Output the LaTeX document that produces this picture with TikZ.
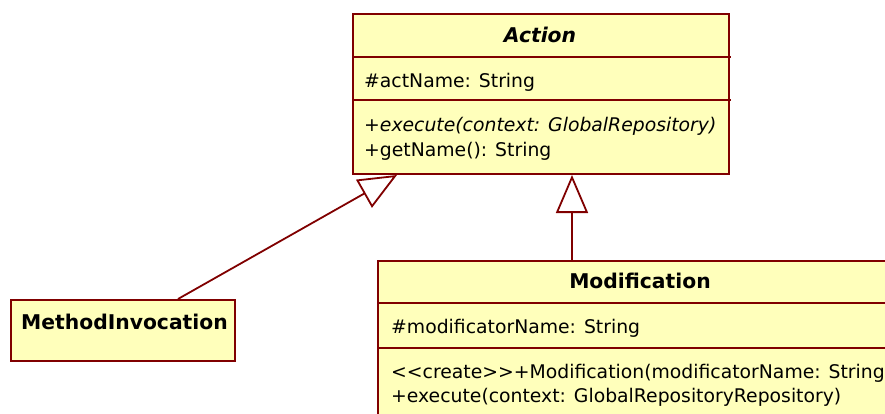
\documentclass[tikz,border=0pt]{standalone}
\usepackage{fontspec}
\setmainfont{DejaVu Sans}
\usetikzlibrary{arrows.meta}
\definecolor{umlfill}{RGB}{255,255,187}
\definecolor{umlline}{RGB}{128,0,0}
\tikzset{
  umlbox/.style={draw=umlline, fill=umlfill, line width=2pt, rectangle, inner sep=0pt, anchor=north west},
  sepline/.style={draw=umlline, line width=1.8pt},
  member/.style={anchor=base west, inner sep=0pt, font=\fontsize{18.8}{22}\selectfont},
  classname/.style={anchor=base, inner sep=0pt, font=\fontsize{20.3}{24}\selectfont\bfseries},
  generalize/.style={draw=umlline, line width=1.8pt,
    -{Triangle[open, fill=white, length=38pt, width=32pt]}},
}
\begin{document}
\begin{tikzpicture}[x=1pt, y=-1pt]
\useasboundingbox (0,0) rectangle (885,414);
\clip (0,0) rectangle (885,414);

% Action (abstract)
\node[umlbox, minimum width=376pt, minimum height=160pt] (action) at (352,13) {};
\draw[sepline] (352,57) -- (731,57);
\draw[sepline] (352,100) -- (731,100);
\node[classname, font=\fontsize{20.3}{24}\selectfont\bfseries\itshape] (actionTitle) at (540,43) {Action};
\node[member] (actionAttr) at (364,88) {\#actName: String};
\node[member, font=\fontsize{18.8}{22}\selectfont\itshape] (actionOp1) at (364,132) {+execute(context: GlobalRepository)};
\node[member] (actionOp2) at (364,157) {+getName(): String};

% MethodInvocation
\node[umlbox, minimum width=224pt, minimum height=61pt] (mi) at (10,299) {};
\node[classname, anchor=base west] (miTitle) at (21,329) {MethodInvocation};

% Modification
\node[umlbox, minimum width=530pt, minimum height=180pt] (mod) at (377,260) {};
\draw[sepline] (377,303) -- (900,303);
\draw[sepline] (377,348) -- (900,348);
\node[classname] (modTitle) at (640,288) {Modification};
\node[member] (modAttr) at (391,333) {\#modificatorName: String};
\node[member] (modOp1) at (391,378) {<{}<create>{}>+Modification(modificatorName: String)};
\node[member] (modOp2) at (391,402) {+execute(context: GlobalRepositoryRepository)};

% Generalizations
\draw[generalize] (mi.north -| 178,0) -- (action.south -| 397,0);
\draw[generalize] (mod.north -| 572,0) -- (action.south -| 572,0);
\end{tikzpicture}
\end{document}
